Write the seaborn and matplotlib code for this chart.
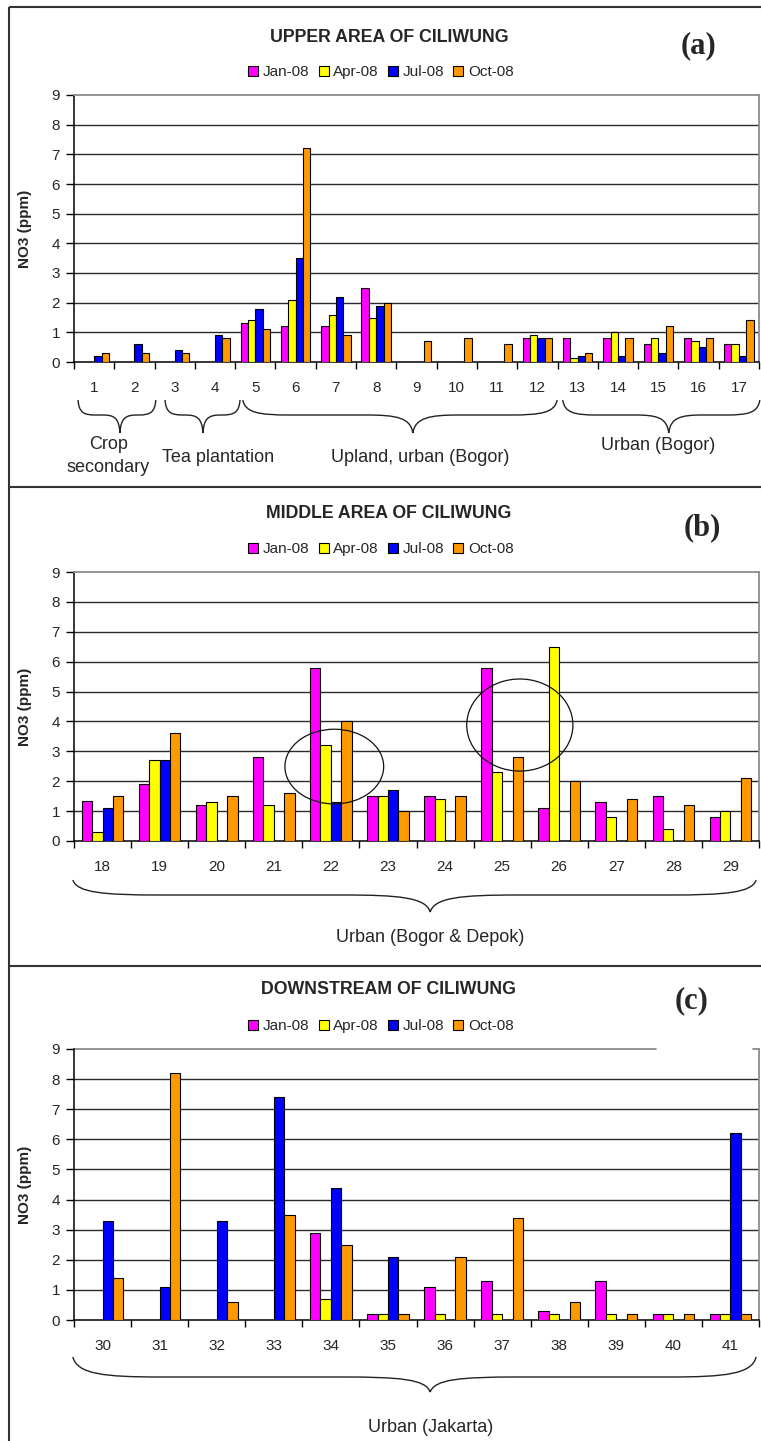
import numpy as np
import pandas as pd
import matplotlib
matplotlib.use("Agg")
import matplotlib.pyplot as plt
import seaborn as sns
from matplotlib.path import Path
from matplotlib.patches import PathPatch, Patch, Ellipse
import matplotlib.transforms as mtransforms

nan = np.nan
months = ["Jan-08", "Apr-08", "Jul-08", "Oct-08"]
month_colors = ["#FF00FF", "#FFFF00", "#0000FF", "#FF9900"]

# (a) upper area
a_sites = [str(i) for i in range(1, 18)]
a_jan = [nan, nan, nan, nan, 1.3, 1.2, 1.2, 2.5, nan, nan, nan, 0.8, 0.8, 0.8, 0.6, 0.8, 0.6]
a_apr = [nan, nan, nan, nan, 1.4, 2.1, 1.6, 1.5, nan, nan, nan, 0.9, 0.15, 1.0, 0.8, 0.7, 0.6]
a_jul = [0.2, 0.6, 0.4, 0.9, 1.8, 3.5, 2.2, 1.9, nan, nan, nan, 0.8, 0.2, 0.2, 0.3, 0.5, 0.2]
a_oct = [0.3, 0.3, 0.3, 0.8, 1.1, 7.2, 0.9, 2.0, 0.7, 0.8, 0.6, 0.8, 0.3, 0.8, 1.2, 0.8, 1.4]

# (b) middle area
b_sites = [str(i) for i in range(18, 30)]
b_jan = [1.35, 1.9, 1.2, 2.8, 5.8, 1.5, 1.5, 5.8, 1.1, 1.3, 1.5, 0.8]
b_apr = [0.3, 2.7, 1.3, 1.2, 3.2, 1.5, 1.4, 2.3, 6.5, 0.8, 0.4, 1.0]
b_jul = [1.1, 2.7, nan, nan, 1.3, 1.7, nan, nan, nan, nan, nan, nan]
b_oct = [1.5, 3.6, 1.5, 1.6, 4.0, 1.0, 1.5, 2.8, 2.0, 1.4, 1.2, 2.1]

# (c) downstream
c_sites = [str(i) for i in range(30, 42)]
c_jan = [nan, nan, nan, nan, 2.9, 0.2, 1.1, 1.3, 0.3, 1.3, 0.2, 0.2]
c_apr = [nan, nan, nan, nan, 0.7, 0.2, 0.2, 0.2, 0.2, 0.2, 0.2, 0.2]
c_jul = [3.3, 1.1, 3.3, 7.4, 4.4, 2.1, nan, nan, nan, nan, nan, 6.2]
c_oct = [1.4, 8.2, 0.6, 3.5, 2.5, 0.2, 2.1, 3.4, 0.6, 0.2, 0.2, 0.2]

titles = ["UPPER AREA OF CILIWUNG", "MIDDLE AREA OF CILIWUNG", "DOWNSTREAM OF CILIWUNG"]
tags = ["(a)", "(b)", "(c)"]
y_label = "NO3 (ppm)"

sns.set_style("white")
plt.rcParams["font.family"] = ["Liberation Sans", "DejaVu Sans"]

W, H = 761, 1441
fig = plt.figure(figsize=(W / 100, H / 100), dpi=100)

# overlay in pixel coordinates for frames / braces
ov = fig.add_axes([0, 0, 1, 1], zorder=-5)
ov.set_xlim(0, W)
ov.set_ylim(H, 0)
ov.axis("off")


def rect(l, t, r, b):
    return [l / W, 1 - b / H, (r - l) / W, (b - t) / H]


def brace(x0, x1, xt, y0, y1, y2, r):
    rr = r
    verts = [
        (x0, y0),
        (x0 + 0.05 * rr, y0 + 0.85 * (y1 - y0)), (x0 + 0.35 * rr, y1), (x0 + rr, y1),
        (xt - rr, y1),
        (xt - 0.35 * rr, y1), (xt - 0.05 * rr, y1 + 0.15 * (y2 - y1)), (xt, y2),
        (xt + 0.05 * rr, y1 + 0.15 * (y2 - y1)), (xt + 0.35 * rr, y1), (xt + rr, y1),
        (x1 - rr, y1),
        (x1 - 0.35 * rr, y1), (x1 - 0.05 * rr, y0 + 0.85 * (y1 - y0)), (x1, y0),
    ]
    codes = [Path.MOVETO,
             Path.CURVE4, Path.CURVE4, Path.CURVE4,
             Path.LINETO,
             Path.CURVE4, Path.CURVE4, Path.CURVE4,
             Path.CURVE4, Path.CURVE4, Path.CURVE4,
             Path.LINETO,
             Path.CURVE4, Path.CURVE4, Path.CURVE4]
    ov.add_patch(PathPatch(Path(verts, codes), facecolor="none", edgecolor="#222222",
                           lw=1.0, clip_on=False))


panels = [
    dict(sites=a_sites, series=[a_jan, a_apr, a_jul, a_oct], box=(74, 95, 759, 362),
         title_y=37, legend_y=72, tag_xy=(698, 46),
         braces=[(-0.40, 1.53, 0.64, "Crop\nsecondary", 0.35, 456),
                 (1.76, 3.62, 2.70, "Tea plantation", 3.07, 458),
                 (3.69, 11.49, 7.91, "Upland, urban (Bogor)", 8.09, 458),
                 (11.63, 16.52, 14.26, "Urban (Bogor)", 14.0, 446)],
         brace_y=(400, 415, 433), circles=[]),
    dict(sites=b_sites, series=[b_jan, b_apr, b_jul, b_oct], box=(74, 572, 759, 841),
         title_y=514, legend_y=549, tag_xy=(702, 528),
         braces=[(-0.52, 11.45, 5.74, "Urban (Bogor & Depok)", 5.74, 938)],
         brace_y=(880, 895, 912),
         circles=[(4.06, 2.49, 1.73, 2.5), (7.31, 3.88, 1.86, 3.08)]),
    dict(sites=c_sites, series=[c_jan, c_apr, c_jul, c_oct], box=(74, 1049, 759, 1320),
         title_y=990, legend_y=1026, tag_xy=(692, 1001),
         braces=[(-0.52, 11.45, 5.74, "Urban (Jakarta)", 5.74, 1427)],
         brace_y=(1357, 1377, 1392), circles=[]),
]

handles = [Patch(facecolor=c, edgecolor="black", lw=0.8) for c in month_colors]

for i, p in enumerate(panels):
    l, t, r, b = p["box"]
    ax = fig.add_axes(rect(l, t, r, b))
    sites = p["sites"]
    n = len(sites)
    rows = []
    for m, vals in zip(months, p["series"]):
        for s, v in zip(sites, vals):
            if not np.isnan(v):
                rows.append({"site": s, "month": m, "value": v})
    df = pd.DataFrame(rows)
    sns.barplot(data=df, x="site", y="value", hue="month", order=sites, hue_order=months,
                palette=month_colors, saturation=1, width=0.73, edgecolor="black",
                linewidth=0.8, errorbar=None, legend=False, ax=ax, zorder=3)
    ax.set_xlim(-0.5, n - 0.5)
    ax.set_ylim(0, 9)
    ax.set_xlabel("")
    ax.set_ylabel("")
    ax.set_yticks(range(10))
    ax.set_xticks(range(n))
    ax.set_xticklabels(sites)
    ax.set_xticks(np.arange(-0.5, n), minor=True)
    ax.tick_params(axis="x", which="major", bottom=True, length=0, pad=14, labelsize=11)
    ax.tick_params(axis="x", which="minor", bottom=True, length=5, width=1, color="black",
                   direction="out")
    ax.tick_params(axis="y", left=True, length=6, width=1, color="black", direction="out",
                   pad=4, labelsize=11)
    for yv in range(1, 9):
        ax.axhline(yv, color="#2a2a2a", lw=1.0, zorder=1)
    for s in ["left", "bottom"]:
        ax.spines[s].set_color("black")
        ax.spines[s].set_linewidth(1.1)
    for s in ["top", "right"]:
        ax.spines[s].set_color("#8c8c8c")
        ax.spines[s].set_linewidth(1.3)
    if i == 2:
        ax.spines["top"].set_visible(False)
        ax.plot([0, (656 - l) / (r - l)], [1, 1], transform=ax.transAxes, color="#8c8c8c",
                lw=1.3, clip_on=False)
        ax.plot([(753 - l) / (r - l), 1], [1, 1], transform=ax.transAxes, color="#8c8c8c",
                lw=1.3, clip_on=False)
    for (cx, cy, cw, ch) in p["circles"]:
        ax.add_patch(Ellipse((cx, cy), cw, ch, facecolor="none", edgecolor="#111111",
                             lw=0.9, zorder=5))

    fig.text(25 / W, 1 - ((t + b) / 2) / H, y_label, rotation=90, ha="center", va="center",
             fontsize=11, fontweight="bold")
    fig.text(389 / W, 1 - p["title_y"] / H, titles[i], ha="center", va="center",
             fontsize=12.8, fontweight="bold")
    tx, ty = p["tag_xy"]
    fig.text(tx / W, 1 - ty / H, tags[i], ha="center", va="center", fontsize=22,
             fontweight="bold", family=["Liberation Serif", "DejaVu Serif"])
    ax.legend(handles, months, ncol=4, loc="center",
              bbox_to_anchor=(381 / W, 1 - p["legend_y"] / H), bbox_transform=fig.transFigure,
              frameon=False, fontsize=11, handlelength=0.65, handleheight=0.65,
              handletextpad=0.3, columnspacing=0.6, borderpad=0, borderaxespad=0)

    # braces and group labels
    y0, y1, y2 = p["brace_y"]
    blend = mtransforms.blended_transform_factory(ax.transData, ov.transData)
    px = lambda xd: ax.transData.transform((xd, 0))[0]
    for (xa, xb, xt, lab, lx, ly) in p["braces"]:
        x0, x1, xtp = px(xa), px(xb), px(xt)
        rad = 12 + 0.11 * (x1 - x0)
        rad = min(rad, (xtp - x0) * 0.48, (x1 - xtp) * 0.48)
        brace(x0, x1, xtp, y0, y1, y2, rad)
        ax.text(lx, ly, lab, transform=blend, ha="center", va="center", fontsize=13,
                linespacing=1.45, clip_on=False)

# panel frames
frame_kw = dict(color="#333333", lw=1.5, solid_capstyle="butt")
ov.plot([9, W], [7, 7], **frame_kw)
ov.plot([9, 9], [7, H], **frame_kw)
ov.plot([9, W], [487, 487], **frame_kw)
ov.plot([9, W], [966, 966], **frame_kw)

fig.savefig("out.png", dpi=100)
